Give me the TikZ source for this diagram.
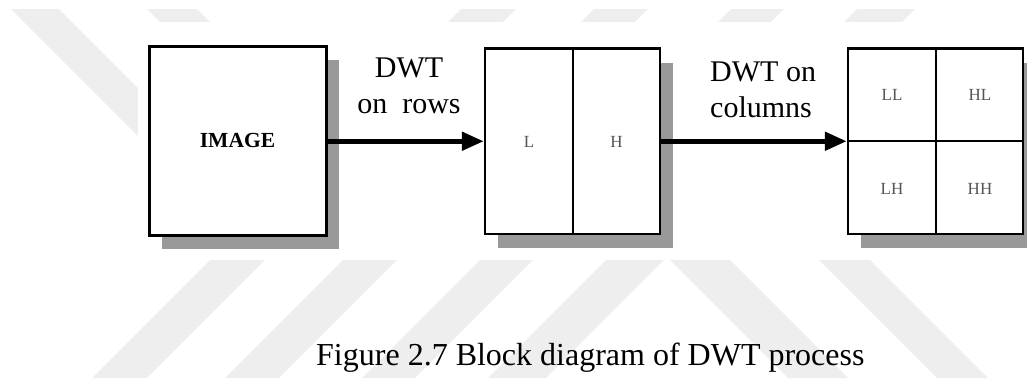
\documentclass[tikz,border=0pt]{standalone}
\usepackage{fontspec}
\setmainfont{Liberation Serif}
\usetikzlibrary{arrows.meta,shadows}

\definecolor{shadowgray}{HTML}{999999}
\definecolor{markgray}{HTML}{EEEEEE}
\definecolor{subgray}{HTML}{555555}

\begin{document}
\begin{tikzpicture}[x=1pt, y=-1pt,
        block/.style={draw, line width=2.5pt, fill=white, inner sep=0pt,
            drop shadow={shadow xshift=13pt, shadow yshift=-14pt, opacity=1, fill=shadowgray}},
        band/.style={text=subgray, font=\fontsize{17}{17}\selectfont},
        flow/.style={line width=5pt, -{Triangle[length=22pt, width=18pt]}},
        lbl/.style={inner sep=0pt, font=\fontsize{30}{36}\selectfont}]
        \useasboundingbox (0,0) rectangle (1027,378);

        % Background stripes
        \begin{scope}
            \clip (0,9.5) rectangle (1027,378);
            \fill[markgray] (2,0) -- (50,0) -- (250,200) -- (202,200) -- cycle;
            \fill[markgray] (138,0) -- (188,0) -- (388,200) -- (338,200) -- cycle;
            \foreach \a/\b in {470/525, 603/657, 740/793, 866/924}
                \fill[markgray] (\a,0) -- (\b,0) -- (\b-378,378) -- (\a-378,378) -- cycle;
            \fill[markgray] (610,200) -- (670,200) -- (848,378) -- (788,378) -- cycle;
            \fill[markgray] (759,200) -- (810,200) -- (988,378) -- (937,378) -- cycle;
        \end{scope}
        \fill[white] (138,22) rectangle (1027,260);

        % Input image
        \node[block, line width=3pt, minimum width=177pt, minimum height=189pt,
            font=\fontsize{21.5}{21.5}\selectfont\bfseries] (img) at (237.5,140.5) {IMAGE};

        % After the row transform
        \node[block, minimum width=175pt, minimum height=185.5pt] (rows) at (572.5,141.25) {};
        \draw[line width=2pt] (rows.north) -- (rows.south);
        \node[band] (lo) at (529,142) {L};
        \node[band] (hi) at (616.5,142) {H};

        % After the column transform
        \node[block, minimum width=175pt, minimum height=185.5pt] (cols) at (935.5,141.25) {};
        \draw[line width=2pt] (cols.north) -- (cols.south);
        \draw[line width=2pt] (cols.west) -- (cols.east);
        \node[band] (ll) at (892,95) {LL};
        \node[band] (hl) at (980,95) {HL};
        \node[band] (lh) at (892,189) {LH};
        \node[band] (hh) at (980,189) {HH};

        % Arrows and their labels
        \draw[flow] (img.east |- rows.west) -- (rows.west);
        \draw[flow] (rows.east) -- (cols.west);
        \node[lbl, align=center, anchor=south] (rowtxt) at (409,114) {DWT\\on\ \ rows};
        \node[lbl, align=left, anchor=south west] (coltxt) at (710,118) {DWT on\\columns};

        \node[inner sep=0pt, anchor=base west, font=\fontsize{32}{38}\selectfont] (caption)
            at (316,365) {Figure 2.7 Block diagram of DWT process};
\end{tikzpicture}
\end{document}
